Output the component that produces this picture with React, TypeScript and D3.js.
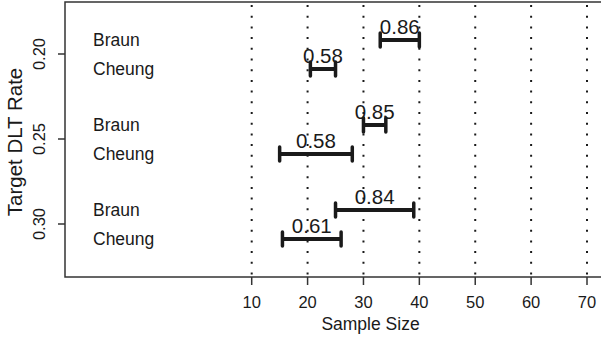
import React, { useEffect, useRef } from "react";
import * as d3 from "d3";

const rates = [0.2, 0.25, 0.3];
const rateTicks = ["0.20", "0.25", "0.30"];
const sizeTicks = [10, 20, 30, 40, 50, 60, 70];

const braunLow = [33, 30, 25];
const braunHigh = [40, 34, 39];
const braunLabel = ["0.86", "0.85", "0.84"];

const cheungLow = [20.5, 15, 15.5];
const cheungHigh = [25, 28, 26];
const cheungLabel = ["0.58", "0.58", "0.61"];

const W = 601;
const H = 341;

const App = () => {
  const ref = useRef<SVGSVGElement | null>(null);

  useEffect(() => {
    const svg = d3.select(ref.current);
    svg.selectAll("*").remove();

    const left = 65;
    const top = 2;
    const bottom = 277;
    const right = 676;
    const ink = "#1a1a1a";
    const font = "Liberation Sans, Arial, sans-serif";

    const x = d3.scaleLinear().domain([10, 70]).range([251.7, 587]);
    const y = d3.scaleLinear().domain([0.2, 0.3]).range([54, 224]);

    // dotted verticals
    svg
      .selectAll("line.grid")
      .data(sizeTicks)
      .enter()
      .append("line")
      .attr("x1", (d) => x(d))
      .attr("x2", (d) => x(d))
      .attr("y1", top + 3)
      .attr("y2", bottom)
      .attr("stroke", ink)
      .attr("stroke-width", 2)
      .attr("stroke-dasharray", "2 8.7");

    // box
    svg
      .append("rect")
      .attr("x", left)
      .attr("y", top)
      .attr("width", right - left)
      .attr("height", bottom - top)
      .attr("fill", "none")
      .attr("stroke", "#333")
      .attr("stroke-width", 1.5);

    // x axis
    const xg = svg.append("g");
    sizeTicks.forEach((t) => {
      xg.append("line")
        .attr("x1", x(t))
        .attr("x2", x(t))
        .attr("y1", bottom)
        .attr("y2", bottom + 8)
        .attr("stroke", "#333")
        .attr("stroke-width", 1.5);
      xg.append("text")
        .attr("x", x(t))
        .attr("y", 307.5)
        .attr("text-anchor", "middle")
        .attr("font-size", 16.5)
        .attr("font-family", font)
        .attr("fill", ink)
        .text(t);
    });
    svg
      .append("text")
      .attr("x", (left + right) / 2)
      .attr("y", 329.5)
      .attr("text-anchor", "middle")
      .attr("font-size", 17.5)
      .attr("font-family", font)
      .attr("fill", ink)
      .text("Sample Size");

    // y axis
    rates.forEach((r, i) => {
      svg
        .append("line")
        .attr("x1", left - 7)
        .attr("x2", left)
        .attr("y1", y(r))
        .attr("y2", y(r))
        .attr("stroke", "#333")
        .attr("stroke-width", 1.5);
      svg
        .append("text")
        .attr("transform", `translate(45,${y(r)}) rotate(-90)`)
        .attr("text-anchor", "middle")
        .attr("font-size", 16.5)
        .attr("font-family", font)
        .attr("fill", ink)
        .text(rateTicks[i]);
    });
    svg
      .append("text")
      .attr("transform", `translate(21.5,142) rotate(-90)`)
      .attr("text-anchor", "middle")
      .attr("font-size", 20.5)
      .attr("font-family", font)
      .attr("fill", ink)
      .text("Target DLT Rate");

    const groups = [
      { name: "Braun", low: braunLow, high: braunHigh, label: braunLabel, off: -14, textOff: -8 },
      { name: "Cheung", low: cheungLow, high: cheungHigh, label: cheungLabel, off: 15, textOff: 21 },
    ];

    groups.forEach((g) => {
      rates.forEach((r, i) => {
        const yy = y(r) + g.off;
        svg
          .append("text")
          .attr("x", 93)
          .attr("y", y(r) + g.textOff)
          .attr("font-size", 17.5)
          .attr("font-family", font)
          .attr("fill", ink)
          .text(g.name);

        const x0 = x(g.low[i]);
        const x1 = x(g.high[i]);
        svg
          .append("line")
          .attr("x1", x0)
          .attr("x2", x1)
          .attr("y1", yy)
          .attr("y2", yy)
          .attr("stroke", ink)
          .attr("stroke-width", 4);
        [x0, x1].forEach((cx) => {
          svg
            .append("line")
            .attr("x1", cx)
            .attr("x2", cx)
            .attr("y1", yy - 7)
            .attr("y2", yy + 7)
            .attr("stroke", ink)
            .attr("stroke-width", 3.5)
            .attr("stroke-linecap", "round");
        });
        svg
          .append("text")
          .attr("x", (x0 + x1) / 2)
          .attr("y", yy - 6.5)
          .attr("text-anchor", "middle")
          .attr("font-size", 20.5)
          .attr("font-family", font)
          .attr("fill", ink)
          .text(g.label[i]);
      });
    });
  });

  return (
    <svg
      ref={ref}
      width={W}
      height={H}
      style={{ position: "absolute", left: 0, top: 0, background: "#fff" }}
    />
  );
};

export default App;
